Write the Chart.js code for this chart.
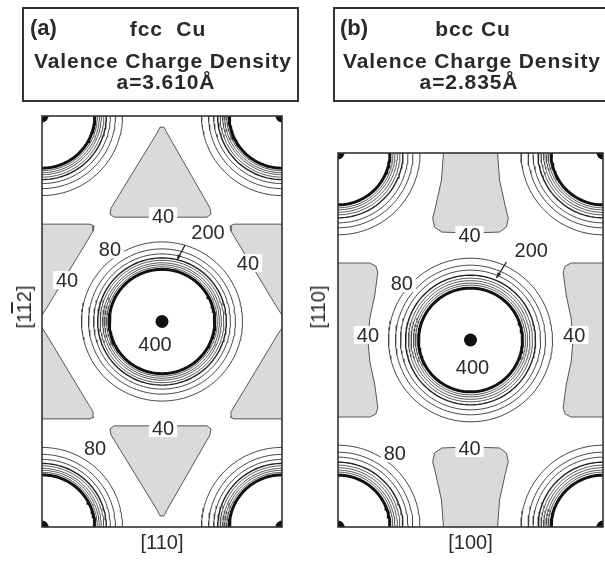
<!DOCTYPE html>
<html>
<head>
<meta charset="utf-8">
<script src="https://cdn.jsdelivr.net/npm/chart.js@4/dist/chart.umd.min.js"></script>
<style>
  body { margin: 0; background: #fff; width: 605px; height: 561px; overflow: hidden; position: relative;
         font-family: 'Liberation Sans', Arial, sans-serif; color: #2a2a2a; }
  canvas { position: absolute; top: 0; }
  .box { position: absolute; top: 7px; height: 91px; border: 2px solid #333; }
  .t { position: absolute; font-weight: bold; font-size: 21px; line-height: 21px; letter-spacing: 0.9px;
       white-space: nowrap; transform: translateX(-50%); }
  .tag { position: absolute; font-weight: bold; font-size: 22px; line-height: 22px; }
  .ylab { position: absolute; font-size: 20px; line-height: 20px; white-space: nowrap;
          transform: translate(-50%, -50%) rotate(-90deg); }
  .ov { text-decoration: overline; }
</style>
</head>
<body>
<canvas id="fccChart" width="300" height="561" style="left:0"></canvas>
<canvas id="bccChart" width="305" height="561" style="left:300px"></canvas>

<div class="box" style="left:22px; width:273px"></div>
<div class="tag" style="left:30px; top:17px">(a)</div>
<div class="t" style="left:168px; top:18px">fcc&nbsp; Cu</div>
<div class="t" style="left:163px; top:50px">Valence Charge Density</div>
<div class="t" style="left:166px; top:71px">a=3.610Å</div>

<div class="box" style="left:333px; width:290px"></div>
<div class="tag" style="left:340px; top:17px">(b)</div>
<div class="t" style="left:473px; top:18px">bcc Cu</div>
<div class="t" style="left:472px; top:50px">Valence Charge Density</div>
<div class="t" style="left:469px; top:71px">a=2.835Å</div>

<div class="ylab" style="left:24px; top:307px">[1<span class="ov">1</span>2]</div>
<div class="ylab" style="left:318px; top:307px">[110]</div>

<script>
// lattice constants (Angstrom) and the plotted cell of each plane
const fccA = 3.610;
const bccA = 2.835;
const fccW = fccA / Math.SQRT2, fccH = fccA * Math.sqrt(1.5);   // (111) plane: [110] x [1-12]
const bccW = bccA, bccH = bccA * Math.SQRT2;                     // (110) plane: [100] x [110]

const fccAtoms = [[0, 0], [fccW, 0], [fccW / 2, fccH / 2], [0, fccH], [fccW, fccH]];
const bccAtoms = [[0, 0], [bccW, 0], [bccW / 2, bccH / 2], [0, bccH], [bccW, bccH]];

// contour levels round each atom and their radius (Angstrom)
const ringLevels = [80, 120, 160, 200, 240, 280, 320, 360, 400];
const fccRingRadius = [0.856, 0.781, 0.727, 0.684, 0.658, 0.631, 0.610, 0.588, 0.561];
const bccRingRadius = [0.877, 0.802, 0.749, 0.695, 0.663, 0.636, 0.610, 0.588, 0.556];

// shaded regions below the 40 contour
const fccLowRegions = [
  [[1.223,4.237],[1.255,4.301],[1.298,4.301],[1.330,4.237],[1.787,3.430],[1.798,3.366],[1.755,3.333],[0.766,3.333],[0.723,3.366],[0.734,3.430]],
  [[1.223,0.184],[1.255,0.120],[1.298,0.120],[1.330,0.184],[1.787,0.991],[1.798,1.055],[1.755,1.088],[0.766,1.088],[0.723,1.055],[0.734,0.991]],
  [[-0.553,3.258],[0.511,3.258],[0.553,3.237],[0.543,3.183],[0.043,2.344],[0.000,2.280],[-0.043,2.344],[-0.543,3.183]],
  [[-0.553,1.163],[0.511,1.163],[0.553,1.184],[0.543,1.238],[0.043,2.077],[0.000,2.141],[-0.043,2.077],[-0.543,1.238]],
  [[3.106,3.258],[2.042,3.258],[2.000,3.237],[2.010,3.183],[2.510,2.344],[2.553,2.280],[2.596,2.344],[3.096,3.183]],
  [[3.106,1.163],[2.042,1.163],[2.000,1.184],[2.010,1.238],[2.510,2.077],[2.553,2.141],[2.596,2.077],[3.096,1.238]]
];
const bccLowRegions = [
  [[1.128,4.15],[1.128,4.009],[1.107,3.72],[1.048,3.45],[1.013,3.31],[1.033,3.215],[1.108,3.162],[1.418,3.150],[1.727,3.162],[1.802,3.215],[1.822,3.31],[1.787,3.45],[1.728,3.72],[1.707,4.009],[1.707,4.15]],
  [[1.128,-0.141],[1.128,0],[1.107,0.289],[1.048,0.559],[1.013,0.699],[1.033,0.794],[1.108,0.847],[1.418,0.859],[1.727,0.847],[1.802,0.794],[1.822,0.699],[1.787,0.559],[1.728,0.289],[1.707,0],[1.707,-0.141]],
  [[-0.192,2.830],[0.341,2.830],[0.405,2.797],[0.426,2.733],[0.394,2.487],[0.341,2.240],[0.320,2.004],[0.341,1.768],[0.394,1.522],[0.426,1.275],[0.405,1.211],[0.341,1.179],[-0.192,1.179]],
  [[3.027,2.830],[2.494,2.830],[2.430,2.797],[2.409,2.733],[2.441,2.487],[2.494,2.240],[2.515,2.004],[2.494,1.768],[2.441,1.522],[2.409,1.275],[2.430,1.211],[2.494,1.179],[3.027,1.179]]
];

// contour labels
const fccLabelText = ['40', '40', '40', '40', '80', '80', '200', '400'];
const fccLabelX = [1.287, 2.191, 0.266, 1.287, 0.723, 0.564, 1.766, 1.202];
const fccLabelY = [3.344, 2.839, 2.656, 1.065, 2.989, 0.849, 3.172, 1.968];
const fccArrow = [1.521, 3.032, 1.436, 2.871];

const bccLabelText = ['40', '40', '40', '40', '80', '80', '200', '400'];
const bccLabelX = [1.407, 0.320, 2.527, 1.407, 0.682, 0.608, 2.068, 1.439];
const bccLabelY = [3.130, 2.058, 2.058, 0.847, 2.615, 0.793, 2.969, 1.715];
const bccArrow = [1.802, 2.840, 1.695, 2.669];

const FONT = "'Liberation Sans', Arial, sans-serif";

function ringPoints(cx, cy, r) {
  const pts = [];
  for (let i = 0; i <= 160; i++) {
    const t = i / 160 * 2 * Math.PI;
    pts.push({x: cx + r * Math.cos(t), y: cy + r * Math.sin(t)});
  }
  return pts;
}

function ringStyle(level) {
  if (level === 400) return {color: '#111', width: 3};
  if (level === 200) return {color: '#222', width: 1.4};
  if (level > 200) return {color: '#555', width: 1};
  return {color: '#444', width: 1};
}

const labelPlugin = {
  id: 'contourLabels',
  afterDatasetsDraw(chart, args, opts) {
    const {ctx} = chart;
    const xs = chart.scales.x, ys = chart.scales.y;
    ctx.save();
    // arrow pointing at the 200 contour
    const a = opts.arrow;
    const x1 = xs.getPixelForValue(a[0]), y1 = ys.getPixelForValue(a[1]);
    const x2 = xs.getPixelForValue(a[2]), y2 = ys.getPixelForValue(a[3]);
    ctx.strokeStyle = '#222';
    ctx.fillStyle = '#222';
    ctx.lineWidth = 1.2;
    ctx.beginPath();
    ctx.moveTo(x1, y1);
    ctx.lineTo(x2, y2);
    ctx.stroke();
    const ang = Math.atan2(y2 - y1, x2 - x1);
    ctx.beginPath();
    ctx.moveTo(x2, y2);
    ctx.lineTo(x2 - 6 * Math.cos(ang - 0.35), y2 - 6 * Math.sin(ang - 0.35));
    ctx.lineTo(x2 - 6 * Math.cos(ang + 0.35), y2 - 6 * Math.sin(ang + 0.35));
    ctx.closePath();
    ctx.fill();

    ctx.font = '20px ' + FONT;
    ctx.textAlign = 'center';
    ctx.textBaseline = 'middle';
    opts.text.forEach((t, i) => {
      const px = xs.getPixelForValue(opts.xs[i]);
      const py = ys.getPixelForValue(opts.ys[i]);
      const w = ctx.measureText(t).width;
      ctx.fillStyle = '#fff';
      ctx.fillRect(px - w / 2 - 3, py - 9, w + 6, 18);
      ctx.fillStyle = '#2a2a2a';
      ctx.fillText(t, px, py + 1);
    });
    ctx.restore();
  }
};

const framePlugin = {
  id: 'frame',
  afterDraw(chart) {
    const {ctx, chartArea: ca} = chart;
    ctx.save();
    ctx.strokeStyle = '#333';
    ctx.lineWidth = 1.6;
    ctx.strokeRect(ca.left, ca.top, ca.right - ca.left, ca.bottom - ca.top);
    ctx.restore();
  }
};

function makePanel(id, w, h, atoms, radii, regions, labelText, labelX, labelY, arrow, xTitle, pad) {
  const datasets = [];
  regions.forEach(poly => {
    const pts = poly.map(p => ({x: p[0], y: p[1]}));
    pts.push({x: poly[0][0], y: poly[0][1]});
    datasets.push({
      data: pts, showLine: true, fill: 'shape', backgroundColor: '#dadada',
      borderColor: '#555', borderWidth: 1, pointRadius: 0
    });
  });
  ringLevels.forEach((level, k) => {
    const st = ringStyle(level);
    atoms.forEach(at => {
      datasets.push({
        data: ringPoints(at[0], at[1], radii[k]), showLine: true, fill: false,
        borderColor: st.color, borderWidth: st.width, pointRadius: 0
      });
    });
  });
  datasets.push({
    data: atoms.map(at => ({x: at[0], y: at[1]})), showLine: false,
    pointRadius: 6.5, pointBackgroundColor: '#111', pointBorderWidth: 0
  });

  new Chart(document.getElementById(id), {
    type: 'scatter',
    data: {datasets: datasets},
    options: {
      responsive: false,
      animation: false,
      events: [],
      layout: {padding: pad, autoPadding: false},
      scales: {
        x: {
          type: 'linear', min: 0, max: w,
          ticks: {display: false},
          grid: {display: false, drawTicks: false},
          border: {display: false},
          title: {display: true, text: xTitle, color: '#2a2a2a', font: {size: 20, family: FONT}, padding: {top: 4, bottom: 6}}
        },
        y: {type: 'linear', min: 0, max: h, display: false}
      },
      plugins: {
        legend: {display: false},
        tooltip: {enabled: false},
        contourLabels: {text: labelText, xs: labelX, ys: labelY, arrow: arrow}
      }
    },
    plugins: [labelPlugin, framePlugin]
  });
}

makePanel('fccChart', fccW, fccH, fccAtoms, fccRingRadius, fccLowRegions,
  fccLabelText, fccLabelX, fccLabelY, fccArrow, '[110]', {left: 42, right: 18, top: 116, bottom: 0});
makePanel('bccChart', bccW, bccH, bccAtoms, bccRingRadius, bccLowRegions,
  bccLabelText, bccLabelX, bccLabelY, bccArrow, '[100]', {left: 38, right: 2, top: 153, bottom: 0});
</script>
</body>
</html>
